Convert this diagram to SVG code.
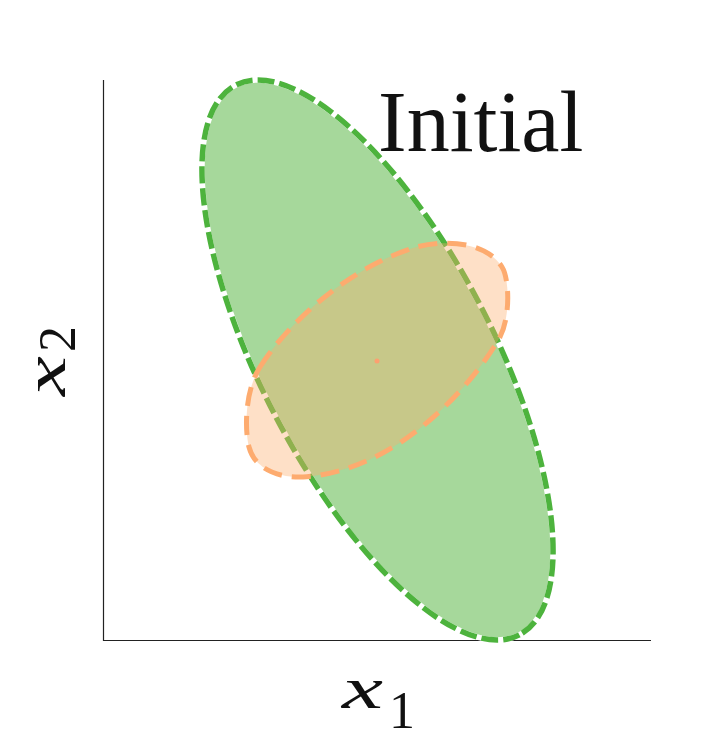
<svg xmlns="http://www.w3.org/2000/svg" width="719" height="750" viewBox="0 0 719 750">
<style>
.spine{stroke:#222;stroke-width:1.2;fill:none}
.gfill{fill:#a6d89b;stroke:#fff;stroke-width:5.5}
.gedge{fill:none;stroke:#4db33d;stroke-width:5.5;stroke-dasharray:17 5}
.oshape{fill:#fdae6b;fill-opacity:0.38;stroke:#fdab6f;stroke-width:5;stroke-dasharray:19 10}
.lbl{font-family:"Liberation Serif",serif;fill:#111}
</style>
<rect width="719" height="750" fill="#fff"/>
<g id="axes">
<line class="spine" x1="103.5" y1="80" x2="103.5" y2="641"/>
<line class="spine" x1="103" y1="640.5" x2="651" y2="640.5"/>
</g>
<g id="green-ellipse">
<ellipse class="gfill" cx="377.5" cy="360" rx="309.3" ry="116.4" transform="rotate(62.7 377.5 360)"/>
<ellipse class="gedge" cx="377.5" cy="360" rx="309.3" ry="116.4" transform="rotate(62.7 377.5 360)"/>
</g>
<g id="orange-shape">
<path class="oshape" d="M 260 367 C 290 320, 350 268, 413 248 C 440 239.5, 485 240, 502 267 C 509 278, 511 315, 500 337 C 485 365, 410 470, 303 477 C 280 478, 255 470, 249 447 C 245 432, 244 392, 260 367 Z"/>
<circle cx="377" cy="361" r="2.5" fill="#fda070"/>
</g>
<g id="title">
<text x="378" y="151" font-family="Liberation Serif, serif" font-size="86" fill="#111">Initial</text>
</g>
<g id="xlabel">
<text class="lbl" x="342" y="708" font-size="60"><tspan font-style="italic" textLength="41" lengthAdjust="spacingAndGlyphs">x</tspan><tspan x="389" y="728" font-size="52">1</tspan></text>
</g>
<g id="ylabel">
<text class="lbl" transform="translate(65 396) rotate(-90)" font-size="60"><tspan x="0" y="0" font-style="italic" textLength="40" lengthAdjust="spacingAndGlyphs">x</tspan><tspan x="44" y="10" font-size="52">2</tspan></text>
</g>
</svg>
